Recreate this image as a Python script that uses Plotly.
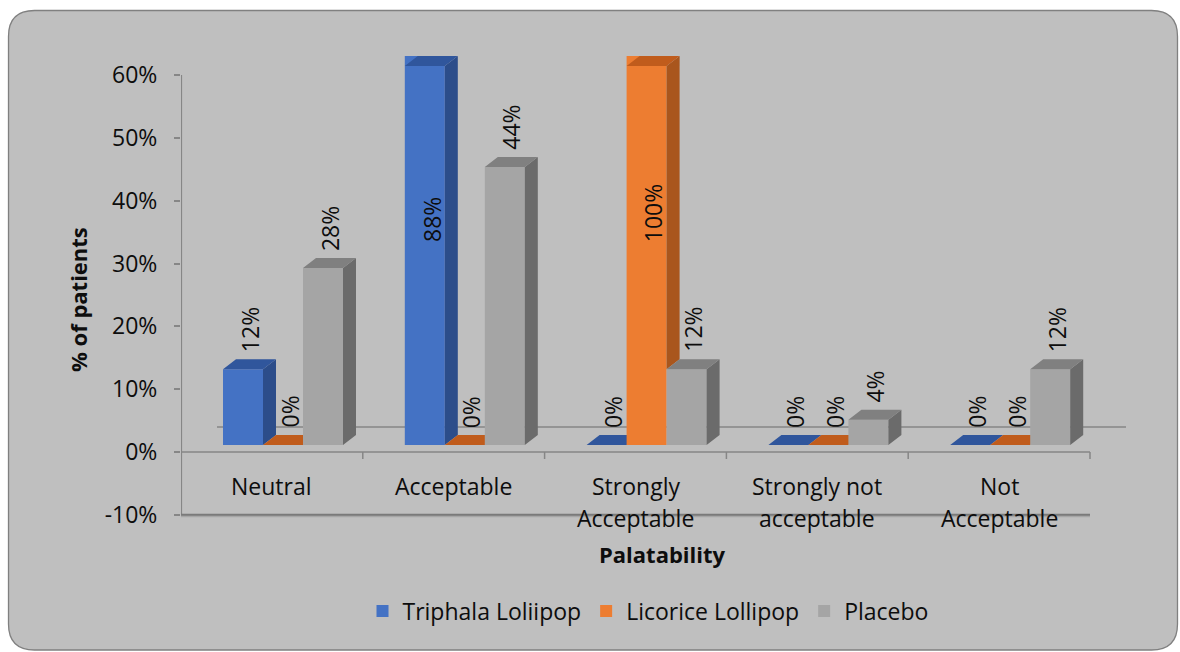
import plotly.graph_objects as go

# ---- data -------------------------------------------------------------
categories = ["Neutral", "Acceptable", "Strongly Acceptable",
              "Strongly not acceptable", "Not Acceptable"]
series_names = ["Triphala Loliipop", "Licorice Lollipop", "Placebo"]
triphala = [12, 88, 0, 0, 0]
licorice = [0, 0, 100, 0, 0]
placebo = [28, 44, 12, 4, 12]
y_ticks = [-10, 0, 10, 20, 30, 40, 50, 60]
x_title = "Palatability"
y_title = "% of patients"

series_values = [triphala, licorice, placebo]

# ---- styling ------------------------------------------------------------
FONT = "Open Sans"
TEXT = "#0d0d0d"
BG = "#bfbfbf"
AXIS = "#868686"
FS = 23
FS_TITLE = 22
front_colors = ["#4472c4", "#ed7d31", "#a5a5a5"]
side_colors = ["#2c4d8a", "#a9561d", "#6b6b6b"]
top_colors = ["#30569c", "#c05c1c", "#808080"]

W, H = 1180, 652
L, R, T, B = 181, 1127, 56, 521          # plot area in px
ux = 909 / 5                              # px per category along the front axis
k_axis = 6.283                            # px per % on the labelled axis
zero_axis_px = 452
k_bar = 6.32                              # px per % where the bars stand
zero_bar_px = 445

x_range = [-0.5, -0.5 + (R - L) / ux]
y_range = [-(B - zero_axis_px) / k_axis, (zero_axis_px - T) / k_axis]
bar_range = [-(B - zero_bar_px) / k_bar, (zero_bar_px - T) / k_bar]

bar_w = 40 / ux
offsets = [-0.269, -0.269 + bar_w, -0.269 + 2 * bar_w]
dx = 13 / ux           # depth of the bar boxes
dy = 10 / k_bar
clip_top = bar_range[1] - dy
wall_dx = 36 / ux
wall_dy = 25 / k_axis


def paper_x(px):
    return (px - L) / (R - L)


def paper_y(py):
    return (B - py) / (B - T)


fig = go.Figure()

n_cat = len(categories)
for i, (name, vals) in enumerate(zip(series_names, series_values)):
    yax = "y%d" % (i + 2)
    fig.add_trace(go.Bar(
        x=list(range(n_cat)), y=vals, width=bar_w, offset=offsets[i],
        name=name, marker=dict(color=front_colors[i], line=dict(width=0)),
        yaxis=yax, hoverinfo="skip",
    ))
    side_x, side_y, top_x, top_y = [], [], [], []
    for j, v in enumerate(vals):
        xl = j + offsets[i]
        xr = xl + bar_w
        vt = min(v, clip_top)
        if i + 1 < len(series_values):
            base = max(0, min(series_values[i + 1][j], vt))
        else:
            base = 0
        if vt > base:
            side_x += [xr, xr + dx, xr + dx, xr, xr, None]
            side_y += [base, base + dy, vt + dy, vt, base, None]
        top_x += [xl, xr, xr + dx, xl + dx, xl, None]
        top_y += [vt, vt, vt + dy, vt + dy, vt, None]
    fig.add_trace(go.Scatter(
        x=side_x, y=side_y, mode="lines", fill="toself",
        fillcolor=side_colors[i], line=dict(width=0, color=side_colors[i]),
        yaxis=yax, showlegend=False, hoverinfo="skip",
    ))
    fig.add_trace(go.Scatter(
        x=top_x, y=top_y, mode="lines", fill="toself",
        fillcolor=top_colors[i], line=dict(width=0, color=top_colors[i]),
        yaxis=yax, showlegend=False, hoverinfo="skip",
    ))

annotations = []
# value labels
for i, vals in enumerate(series_values):
    for j, v in enumerate(vals):
        xc = j + offsets[i] + bar_w / 2 + dx / 2
        if v > clip_top:
            yv, ys = 0.53 * clip_top, 0
        else:
            yv, ys = v, 15
        annotations.append(dict(
            x=xc, y=yv, xref="x", yref="y2", text="%d%%" % v,
            textangle=-90, showarrow=False, yanchor="bottom", xanchor="center",
            yshift=ys, font=dict(family=FONT, size=FS, color=TEXT),
        ))

# category labels, wrapped at the last space
for j, c in enumerate(categories):
    lines = [c] if " " not in c else list(c.rsplit(" ", 1))
    for k, line in enumerate(lines):
        annotations.append(dict(
            x=j, y=0, xref="x", yref="y", text=line, showarrow=False,
            xanchor="center", yanchor="middle", yshift=-34 - 32 * k,
            font=dict(family=FONT, size=FS, color=TEXT),
        ))

annotations.append(dict(
    x=paper_x(662), y=paper_y(554), xref="paper", yref="paper",
    text="<b>%s</b>" % x_title, showarrow=False, xanchor="center",
    yanchor="middle", font=dict(family=FONT, size=FS_TITLE, color=TEXT),
))
annotations.append(dict(
    x=paper_x(78), y=paper_y(300), xref="paper", yref="paper",
    text="<b>%s</b>" % y_title, showarrow=False, textangle=-90,
    xanchor="center", yanchor="middle",
    font=dict(family=FONT, size=FS_TITLE, color=TEXT),
))


def rounded_box(x0, y0, x1, y1, r):
    X = paper_x
    Y = paper_y
    return (
        f"M{X(x0 + r)},{Y(y0)} L{X(x1 - r)},{Y(y0)} "
        f"Q{X(x1)},{Y(y0)} {X(x1)},{Y(y0 + r)} "
        f"L{X(x1)},{Y(y1 - r)} Q{X(x1)},{Y(y1)} {X(x1 - r)},{Y(y1)} "
        f"L{X(x0 + r)},{Y(y1)} Q{X(x0)},{Y(y1)} {X(x0)},{Y(y1 - r)} "
        f"L{X(x0)},{Y(y0 + r)} Q{X(x0)},{Y(y0)} {X(x0 + r)},{Y(y0)} Z"
    )


shapes = [
    dict(type="path", xref="paper", yref="paper",
         path=rounded_box(8.5, 10.5, 1177.5, 650, 26),
         fillcolor=BG, line=dict(color="#808080", width=1.3), layer="below"),
    # back floor line
    dict(type="line", xref="x", yref="y", x0=-0.5 + wall_dx, x1=4.5 + wall_dx,
         y0=wall_dy, y1=wall_dy, line=dict(color=AXIS, width=1.5), layer="below"),
    # value axis line
    dict(type="line", xref="x", yref="y", x0=-0.5, x1=-0.5,
         y0=y_ticks[0], y1=y_ticks[-1], line=dict(color=AXIS, width=2.2), layer="below"),
    # front category axis line
    dict(type="line", xref="x", yref="y", x0=-0.5, x1=4.5, y0=0, y1=0,
         line=dict(color=AXIS, width=1.5), layer="below"),
    # front floor edge
    dict(type="line", xref="x", yref="y", x0=-0.5, x1=4.5,
         y0=y_ticks[0] - 1.5 / k_axis, y1=y_ticks[0] - 1.5 / k_axis,
         line=dict(color="#a6a6a6", width=2), layer="below"),
    dict(type="line", xref="x", yref="y", x0=-0.5, x1=4.5,
         y0=y_ticks[0], y1=y_ticks[0],
         line=dict(color="#7a7a7a", width=2), layer="below"),
]
for j in range(n_cat):
    shapes.append(dict(type="line", xref="x", yref="y", x0=j + 0.5, x1=j + 0.5,
                       y0=0, y1=-7 / k_axis, line=dict(color=AXIS, width=1.5),
                       layer="below"))

bar_axis = dict(range=bar_range, overlaying="y", visible=False, fixedrange=True)

fig.update_layout(
    width=W, height=H,
    margin=dict(l=L, r=W - R, t=T, b=H - B, pad=0),
    paper_bgcolor="white",
    plot_bgcolor="rgba(0,0,0,0)",
    barmode="overlay",
    font=dict(family=FONT, size=FS, color=TEXT),
    xaxis=dict(range=x_range, showgrid=False, zeroline=False, showline=False,
               showticklabels=False, ticks="", fixedrange=True),
    yaxis=dict(range=y_range, tickvals=y_ticks,
               ticktext=["%d%%" % v for v in y_ticks],
               showgrid=False, zeroline=False, showline=False,
               ticks="outside", ticklen=6, tickwidth=1.5, tickcolor=AXIS,
               ticklabelstandoff=12, tickfont=dict(family=FONT, size=FS, color=TEXT),
               fixedrange=True),
    yaxis2=bar_axis, yaxis3=bar_axis, yaxis4=bar_axis,
    legend=dict(orientation="h", x=paper_x(648), xanchor="center",
                y=paper_y(611), yanchor="middle",
                bgcolor="rgba(0,0,0,0)", font=dict(family=FONT, size=FS, color=TEXT)),
    shapes=shapes,
    annotations=annotations,
    showlegend=True,
)

fig.write_html("out.html")
